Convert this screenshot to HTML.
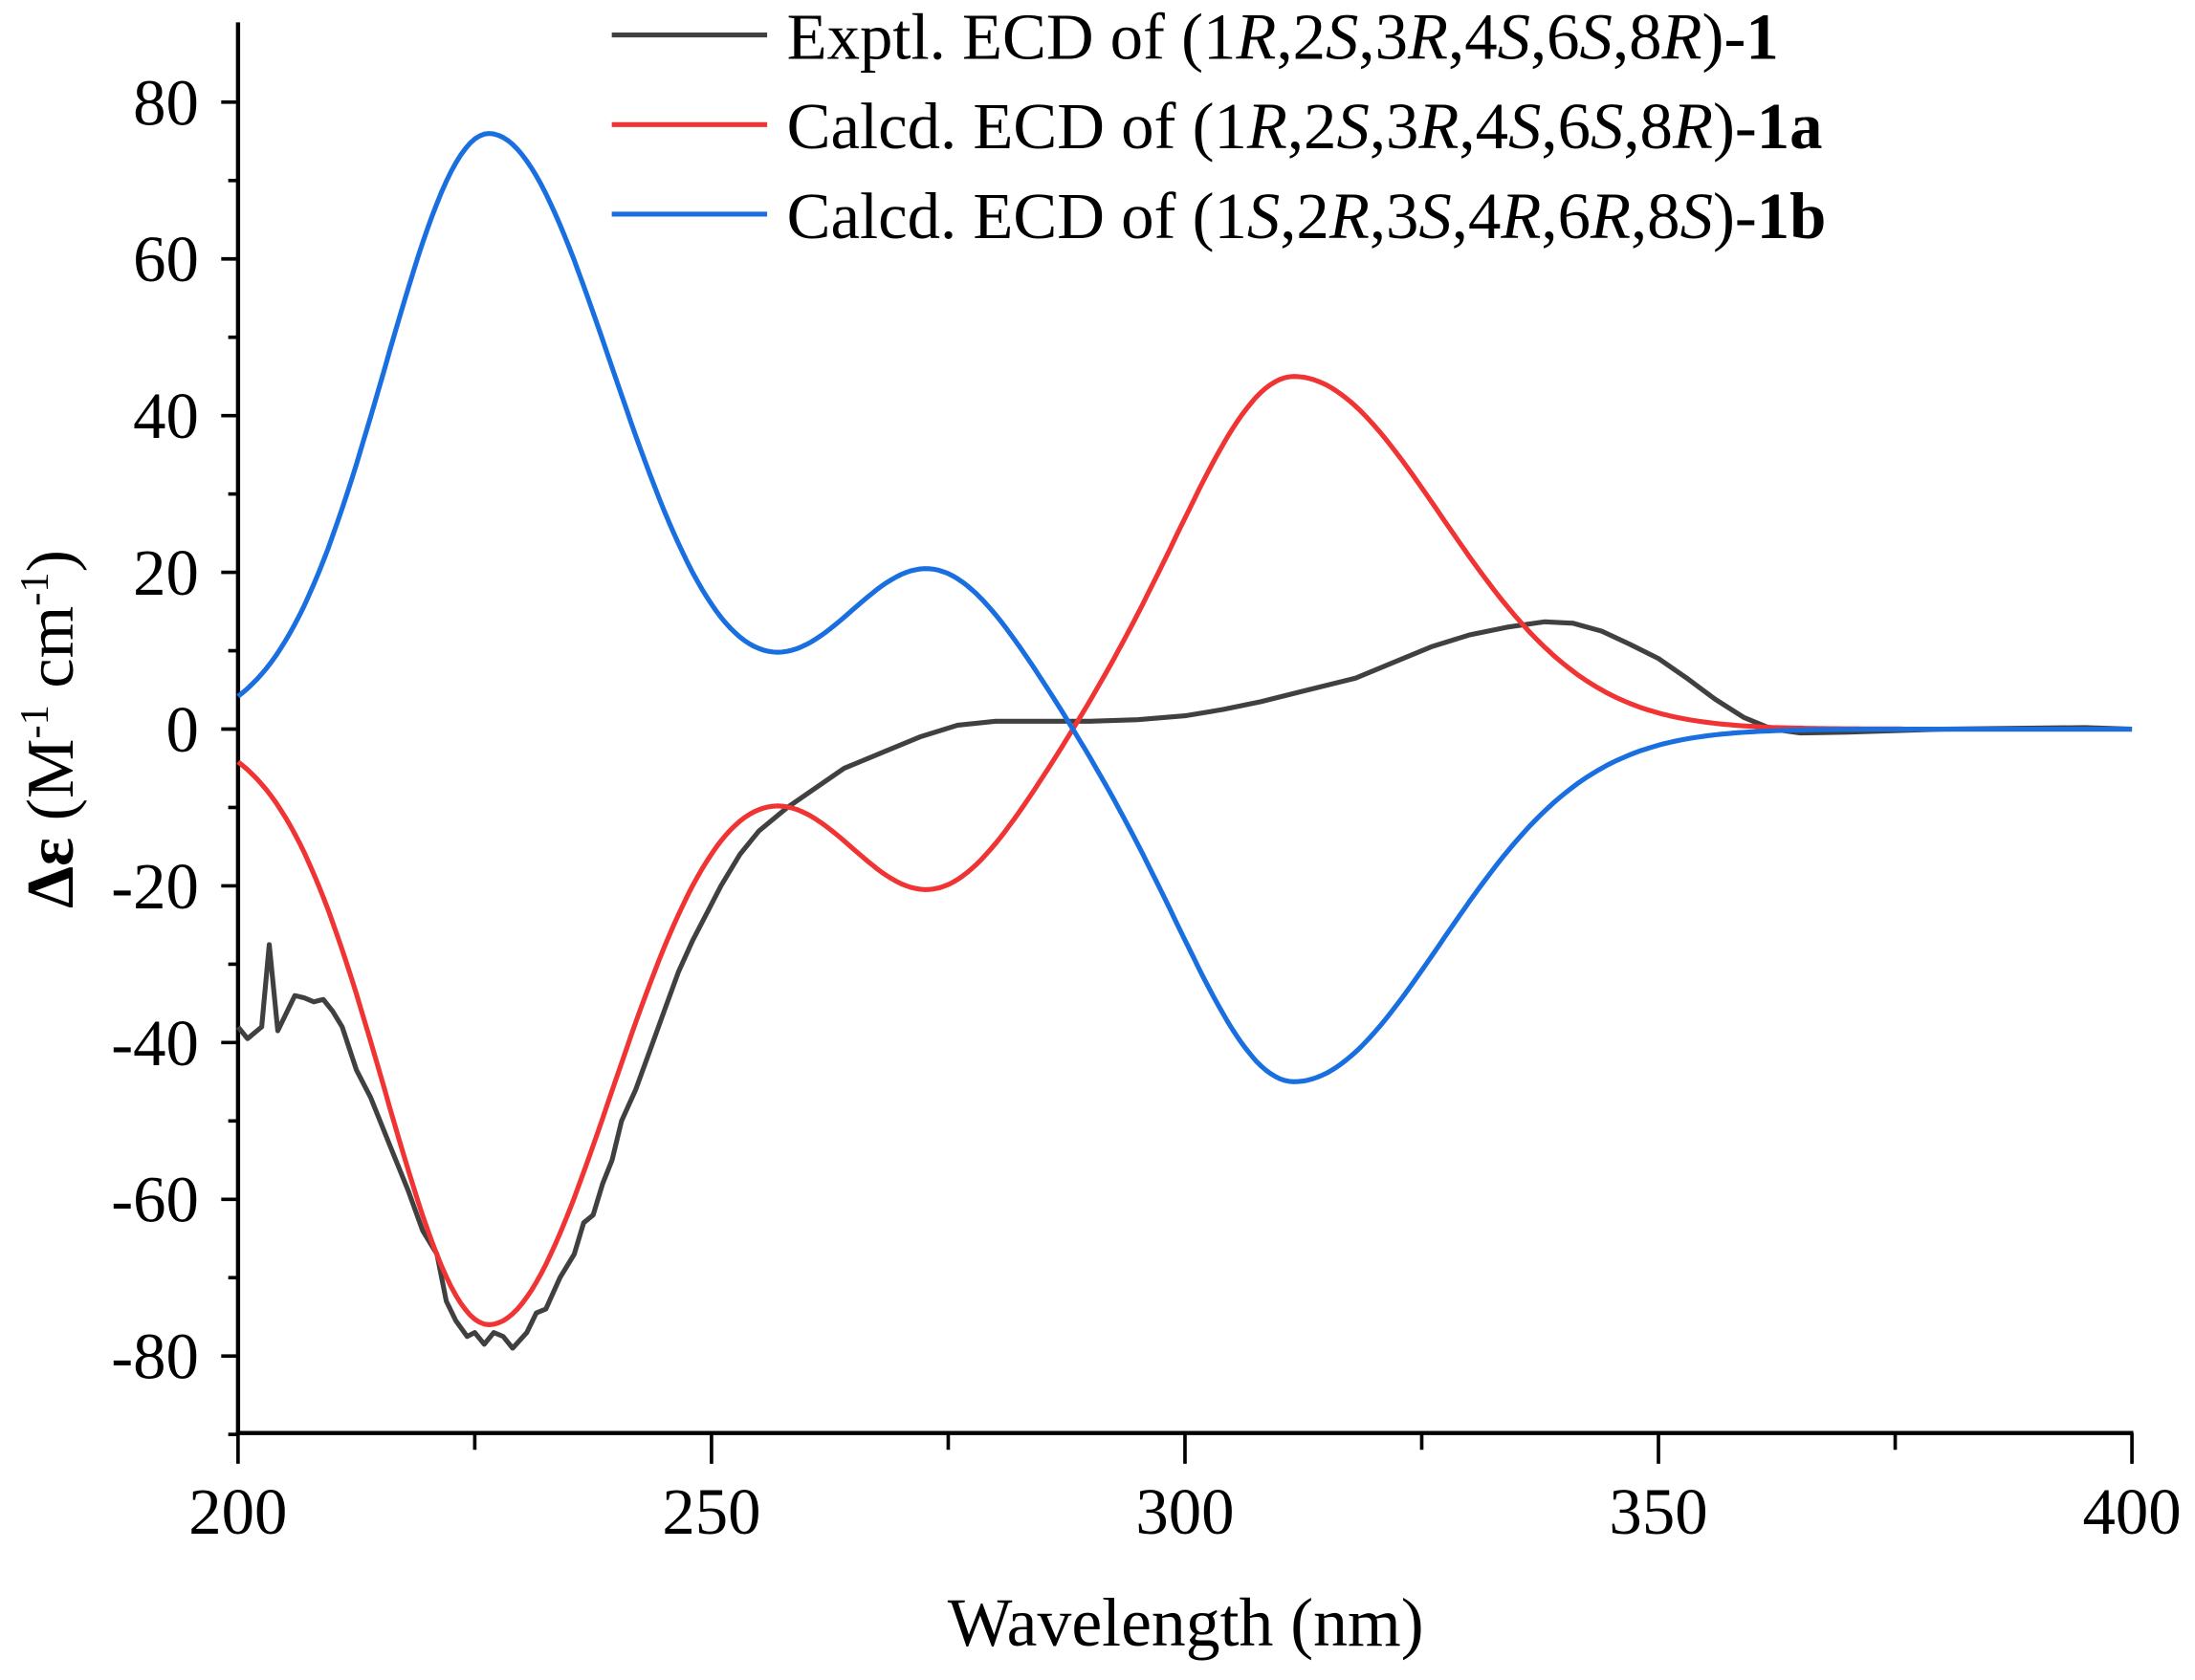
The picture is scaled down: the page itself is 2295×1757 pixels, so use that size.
<!DOCTYPE html>
<html><head><meta charset="utf-8"><style>
html,body{margin:0;padding:0;background:#fff;}
svg{display:block;}
text{font-family:"Liberation Serif",serif;fill:#000;}
</style></head><body>
<svg id="s" width="2295" height="1757" viewBox="0 0 1568 1200.5" xmlns="http://www.w3.org/2000/svg">
<g stroke="#000" stroke-width="3" fill="none" id="axes">
<line x1="170" y1="16" x2="170" y2="1025"/>
<line x1="168.5" y1="1024" x2="1524" y2="1024"/>
</g>
<g id="ticks" stroke="#000" stroke-width="2.5"></g>
<g font-size="47" text-anchor="end" id="ylab"></g>
<g font-size="47" text-anchor="middle" id="xlab"></g>
<text x="847" y="1176" font-size="49" text-anchor="middle">Wavelength (nm)</text>
<text transform="translate(52,521) rotate(-90)" font-size="48" text-anchor="middle"><tspan font-weight="bold">Δε</tspan> (M<tspan font-size="29" dy="-18">-1</tspan><tspan dy="18"> cm</tspan><tspan font-size="29" dy="-18">-1</tspan><tspan dy="18">)</tspan></text>
<g id="curves" fill="none" stroke-width="3.5" stroke-linejoin="round"></g>
<g stroke-width="3.5">
<line x1="437" y1="25" x2="548" y2="25" stroke="#404040"/>
<line x1="437" y1="89" x2="548" y2="89" stroke="#f03434"/>
<line x1="437" y1="153" x2="548" y2="153" stroke="#1a6fe0"/>
</g>
<g font-size="47">
<text x="562" y="42">Exptl. ECD of (1<tspan font-style="italic">R</tspan>,2<tspan font-style="italic">S</tspan>,3<tspan font-style="italic">R</tspan>,4<tspan font-style="italic">S</tspan>,6<tspan font-style="italic">S</tspan>,8<tspan font-style="italic">R</tspan>)-<tspan font-weight="bold">1</tspan></text>
<text x="562" y="106">Calcd. ECD of (1<tspan font-style="italic">R</tspan>,2<tspan font-style="italic">S</tspan>,3<tspan font-style="italic">R</tspan>,4<tspan font-style="italic">S</tspan>,6<tspan font-style="italic">S</tspan>,8<tspan font-style="italic">R</tspan>)-<tspan font-weight="bold">1a</tspan></text>
<text x="562" y="170">Calcd. ECD of (1<tspan font-style="italic">S</tspan>,2<tspan font-style="italic">R</tspan>,3<tspan font-style="italic">S</tspan>,4<tspan font-style="italic">R</tspan>,6<tspan font-style="italic">R</tspan>,8<tspan font-style="italic">S</tspan>)-<tspan font-weight="bold">1b</tspan></text>
</g>
</svg>
<script>
var NS="http://www.w3.org/2000/svg";
function X(w){return 170+(w-200)*6.765;}
function Y(v){return 521-v*5.6;}
function el(t,a,p,txt){var e=document.createElementNS(NS,t);for(var k in a)e.setAttribute(k,a[k]);if(txt!==undefined)e.textContent=txt;document.getElementById(p).appendChild(e);}
for(var v=-90;v<=80;v+=10){var y=Y(v);var maj=(v%20===0);el("line",{x1:maj?158:163,y1:y,x2:170,y2:y},"ticks");if(maj)el("text",{x:142,y:y+16},"ylab",String(v));}
for(var w=200;w<=400;w+=25){var x=X(w);var maj=(w%50===0);el("line",{x1:x,y1:1024,x2:x,y2:maj?1046:1036},"ticks");if(maj)el("text",{x:x,y:1096},"xlab",w);}
function g(x,c,A,sl,sr){var s=x<c?sl:sr;var d=(x-c)/s;return A*Math.exp(-d*d/2);}
function red(x){return g(x,226.5,-76,11,13)+g(x,273,-20.5,9.5,9.5)+g(x,311.5,45,11.5,15.5);}
var pr="",pb="";
for(var x=200;x<=400;x+=0.5){var r=red(x);pr+=(x==200?"M":"L")+X(x).toFixed(1)+","+Y(r).toFixed(1);pb+=(x==200?"M":"L")+X(x).toFixed(1)+","+Y(-r).toFixed(1);}
var ex=[[200,-38],[201,-39.5],[202.5,-38],[203.3,-27.5],[204.2,-38.5],[206,-34],[207,-34.3],[208,-34.8],[209,-34.5],[210,-36],[211,-38],[212.5,-43.5],[214,-47],[216,-53],[218,-59],[219.5,-64],[221,-67],[222,-73],[223,-75.5],[224.2,-77.5],[225,-77],[226,-78.5],[227,-77],[228,-77.5],[229,-79],[230.5,-77],[231.5,-74.5],[232.5,-74],[234,-70],[235.5,-67],[236.5,-63],[237.5,-62],[238.5,-58],[239.5,-55],[240.5,-50],[242,-46],[243.5,-41],[245,-36],[246.5,-31],[248,-27],[249.5,-23.5],[251,-20],[253,-16],[255,-13],[258,-10],[261,-7.5],[264,-5],[268,-3],[272,-1],[276,0.5],[280,1],[285,1],[290,1],[295,1.2],[300,1.7],[304,2.5],[308,3.5],[313,5],[318,6.5],[322,8.5],[326,10.5],[330,12],[334,13],[338,13.7],[341,13.5],[344,12.5],[347,10.8],[350,9],[353,6.5],[356,3.8],[359,1.5],[362,0],[365,-0.5],[370,-0.4],[380,0],[395,0.2],[400,0]];
var pe="";ex.forEach(function(p,i){pe+=(i?"L":"M")+X(p[0]).toFixed(1)+","+Y(p[1]).toFixed(1);});
el("path",{d:pe,stroke:"#404040"},"curves");
el("path",{d:pr,stroke:"#f03434"},"curves");
el("path",{d:pb,stroke:"#1a6fe0"},"curves");
</script>
</body></html>
